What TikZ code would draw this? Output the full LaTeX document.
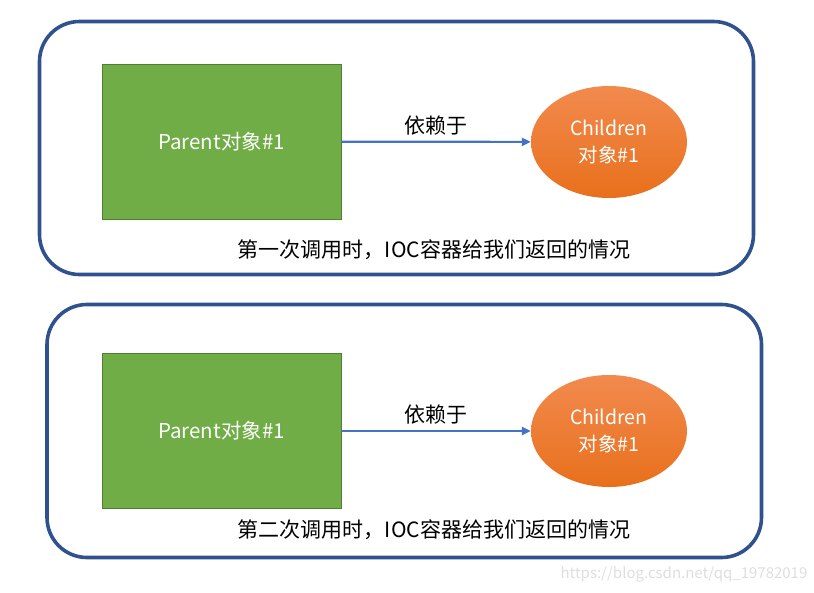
\documentclass[tikz,border=0pt]{standalone}
\usepackage{fontspec}
\setmainfont{Noto Sans CJK SC}
\usetikzlibrary{shapes.geometric,arrows.meta}
\definecolor{cadre}{HTML}{2F528F}
\definecolor{vert}{HTML}{70AD47}
\definecolor{vertfonce}{HTML}{507E32}
\definecolor{fleche}{HTML}{4472C4}
\begin{document}
\begin{tikzpicture}[x=1pt,y=-1pt,
	cadre/.style={draw=cadre,line width=3.6pt,rounded corners=40pt},
	parent/.style={draw=vertfonce,fill=vert,line width=0.6pt,minimum width=239pt,minimum height=155pt,text=white,font=\fontsize{20.5}{24}\selectfont},
	enfant/.style={ellipse,top color={rgb,255:red,242;green,138;blue,78},bottom color={rgb,255:red,232;green,112;blue,28},inner sep=0pt,minimum width=156pt,minimum height=112pt,text=white,align=center,font=\fontsize{19.5}{27}\selectfont},
	lien/.style={fleche,line width=2.2pt,-{Triangle[length=9pt,width=8pt]}},
	texte/.style={text=black,font=\fontsize{21}{25}\selectfont}]
%					Cadre :
					\useasboundingbox (0,0) rectangle (814,592);
%					Premier appel :
					\draw[cadre] (39.5,21.5) rectangle (753.5,274.5);
					\node[parent] (parent1) at (221.5,141.5) {Parent对象\#1};
					\node[enfant] (enfant1) at (609,142) {Children\\对象\#1};
					\draw[lien] (parent1) -- (enfant1) node[midway,above=2pt,texte] (dep1) {依赖于};
					\node[texte] (legende1) at (434,250) {第一次调用时，IOC容器给我们返回的情况};
%					Second appel :
					\draw[cadre] (47,304.5) rectangle (761.5,557.5);
					\node[parent] (parent2) at (221.5,431) {Parent对象\#1};
					\node[enfant] (enfant2) at (609,431) {Children\\对象\#1};
					\draw[lien] (parent2) -- (enfant2) node[midway,above=2pt,texte] (dep2) {依赖于};
					\node[texte] (legende2) at (434,530) {第二次调用时，IOC容器给我们返回的情况};
%					Filigrane :
					\node[text=black!13,font=\fontsize{15}{18}\selectfont] (url) at (684,574) {https://blog.csdn.net/qq\_19782019};
				\end{tikzpicture}
\end{document}
